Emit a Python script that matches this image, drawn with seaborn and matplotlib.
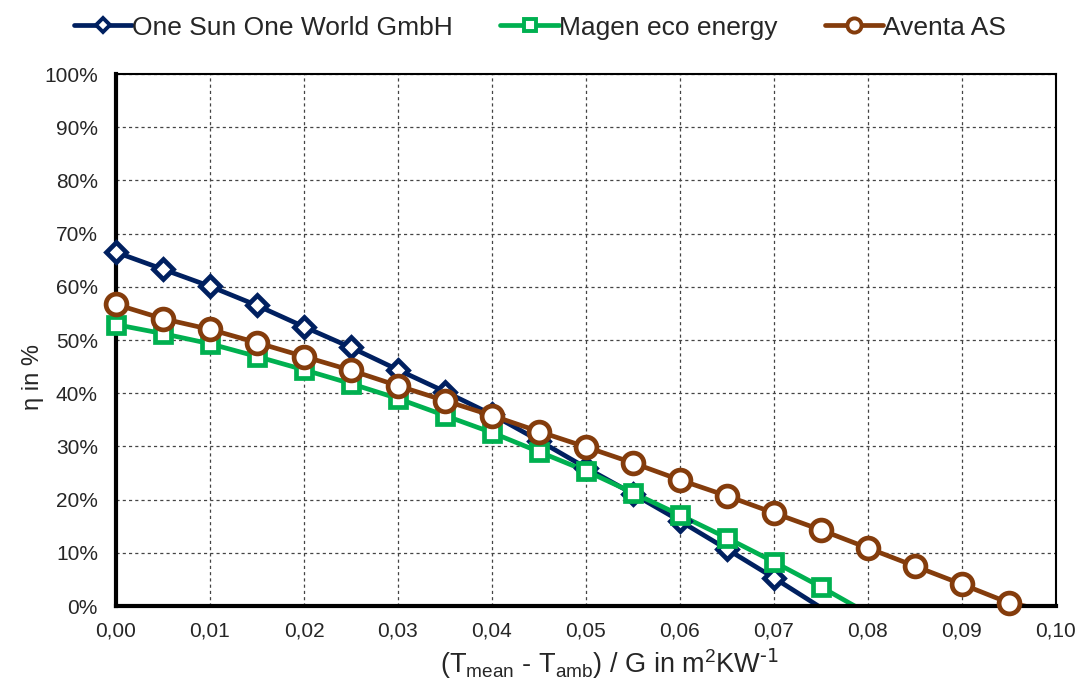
import seaborn as sns
import matplotlib.pyplot as plt
from matplotlib.lines import Line2D
import pandas as pd

# Data
x_vals = [0.000, 0.005, 0.010, 0.015, 0.020, 0.025, 0.030, 0.035, 0.040, 0.045,
          0.050, 0.055, 0.060, 0.065, 0.070, 0.075, 0.080, 0.085, 0.090, 0.095, 0.100]
one_sun = [66.5, 63.3, 60.1, 56.5, 52.5, 48.6, 44.4, 40.3, 36.0, 31.1,
           26.0, 21.1, 16.0, 10.7, 5.3, -0.3, -6.0]
magen = [52.9, 51.2, 49.3, 46.9, 44.4, 41.8, 39.0, 35.8, 32.6, 29.0,
         25.4, 21.3, 17.1, 12.8, 8.3, 3.6, -1.4]
aventa = [56.7, 54.0, 52.0, 49.5, 46.9, 44.3, 41.4, 38.6, 35.8, 32.8,
          29.9, 26.9, 23.7, 20.7, 17.5, 14.3, 10.9, 7.5, 4.1, 0.6, -1.2]

series_names = ["One Sun One World GmbH", "Magen eco energy", "Aventa AS"]
series_colors = ["#002060", "#00B050", "#843C0C"]
series_markers = ["D", "s", "o"]
marker_sizes = [10, 12, 15]

x_ticks = [0.00, 0.01, 0.02, 0.03, 0.04, 0.05, 0.06, 0.07, 0.08, 0.09, 0.10]
x_tick_labels = ["0,00", "0,01", "0,02", "0,03", "0,04", "0,05", "0,06", "0,07", "0,08", "0,09", "0,10"]
y_ticks = [0, 10, 20, 30, 40, 50, 60, 70, 80, 90, 100]
y_tick_labels = [f"{v}%" for v in y_ticks]

frames = []
for name, vals in zip(series_names, [one_sun, magen, aventa]):
    frames.append(pd.DataFrame({"x": x_vals[:len(vals)], "eta": vals, "series": name}))
df = pd.concat(frames, ignore_index=True)

sns.set_style("white")
plt.rcParams['font.family'] = ['Liberation Sans', 'DejaVu Sans']
plt.rcParams['mathtext.default'] = 'regular'

fig = plt.figure(figsize=(10.84, 6.86), dpi=100)
ax = fig.add_axes([0.107, 0.1166, 0.867, 0.7755])

handles = []
for name, col, mk, ms in zip(series_names, series_colors, series_markers, marker_sizes):
    sub = df[df["series"] == name]
    sns.lineplot(data=sub, x="x", y="eta", color=col, linewidth=3.4, ax=ax,
                 estimator=None, sort=False, legend=False)
    vis = sub[sub["eta"] >= 0]
    ax.plot(vis["x"], vis["eta"], linestyle="none", marker=mk, markersize=ms,
            markerfacecolor="white", markeredgecolor=col, markeredgewidth=3.4, zorder=4,
            clip_on=False)
    handles.append(Line2D([], [], color=col, linewidth=3.4, marker=mk, markersize=ms * 0.68,
                          markerfacecolor="white", markeredgecolor=col, markeredgewidth=2.8))

ax.set_xlim(0, 0.1)
ax.set_ylim(0, 100)
ax.set_xticks(x_ticks)
ax.set_xticklabels(x_tick_labels, fontsize=15)
ax.set_yticks(y_ticks)
ax.set_yticklabels(y_tick_labels, fontsize=15)
ax.tick_params(axis="y", length=0, pad=13)
ax.tick_params(axis="x", length=0, pad=11)

ax.grid(True, color="#444444", linestyle=(0, (2.5, 2.5)), linewidth=0.9)
ax.set_axisbelow(True)

for side in ["left", "bottom"]:
    ax.spines[side].set_linewidth(3)
    ax.spines[side].set_color("black")
for side in ["top", "right"]:
    ax.spines[side].set_linewidth(1.5)
    ax.spines[side].set_color("black")

ax.set_ylabel("η in %", fontsize=17)
ax.yaxis.set_label_coords(-0.077, 0.43)
ax.set_xlabel(r"(T$_{mean}$ - T$_{amb}$) / G in m$^{2}$KW$^{\text{-1}}$", fontsize=19.5)
ax.xaxis.set_label_coords(0.525, -0.076)

fig.legend(handles, series_names, loc="upper center", bbox_to_anchor=(0.498, 1.012), ncol=3,
           frameon=False, fontsize=19, handlelength=2.2, handletextpad=0.0, columnspacing=1.8)

fig.savefig("out.png", dpi=100)
